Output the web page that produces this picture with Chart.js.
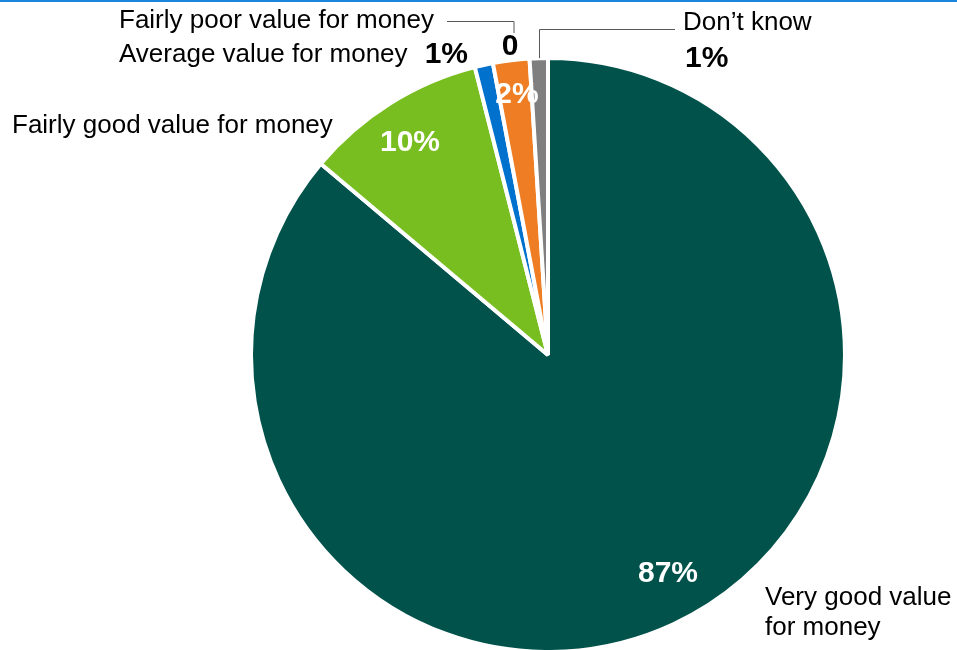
<!DOCTYPE html>
<html><head><meta charset="utf-8">
<script src="https://cdn.jsdelivr.net/npm/chart.js@4/dist/chart.umd.min.js"></script>
<style>html,body{margin:0;padding:0;background:#fff;}#wrap{width:957px;height:650px;position:relative;}</style>
</head><body><div id="wrap"><canvas id="c" width="957" height="650"></canvas></div>
<script>
const categories = ["Very good value for money", "Fairly good value for money", "Average value for money", "Fairly poor value for money", "Very poor value for money", "Don’t know"];
const values = [87, 10, 1, 0, 2, 1];
const valueLabels = ["87%", "10%", "1%", "0", "2%", "1%"];
const sliceColors = ["#00524A", "#78BE21", "#0072CE", "#ED7D31", "#EE7D23", "#7F7F7F"];

const FONT = '"Liberation Sans", Arial, sans-serif';

const labelPlugin = {
  id: 'labels',
  afterDraw(chart) {
    const ctx = chart.ctx;
    const meta = chart.getDatasetMeta(0);
    const a0 = meta.data[0];
    const cx = a0.x, cy = a0.y;
    ctx.save();
    // top blue rule
    ctx.fillStyle = '#1B86DD';
    ctx.fillRect(0, 0, chart.width, 2);

    function txt(s, x, y, opt) {
      ctx.font = (opt.bold ? 'bold ' : '') + opt.size + 'px ' + FONT;
      ctx.fillStyle = opt.color || '#000';
      ctx.textAlign = opt.align || 'left';
      ctx.textBaseline = 'alphabetic';
      ctx.fillText(s, x, y);
    }
    // leader lines
    ctx.strokeStyle = '#595959';
    ctx.lineWidth = 1;
    ctx.beginPath();
    ctx.moveTo(cx - 101, cy - 333.5);
    ctx.lineTo(cx - 34, cy - 333.5);
    ctx.lineTo(cx - 34, cy - 322);
    ctx.stroke();
    const g = meta.data[5];
    const gm = (g.startAngle + g.endAngle) / 2;
    const gx = Math.round(cx + Math.cos(gm) * g.outerRadius) + 0.5;
    const gy = cy + Math.sin(gm) * g.outerRadius;
    ctx.beginPath();
    ctx.moveTo(gx, gy);
    ctx.lineTo(gx, cy - 325.5);
    ctx.lineTo(cx + 127, cy - 325.5);
    ctx.stroke();

    // category labels
    txt(categories[3], cx - 429, cy - 327, {size: 26});
    txt(categories[2], cx - 429, cy - 293, {size: 26});
    txt(categories[1], cx - 536, cy - 222, {size: 26});
    txt("Very good value", cx + 217, cy + 250, {size: 26});
    txt("for money", cx + 217, cy + 280, {size: 26});
    txt(categories[5], cx + 135, cy - 325, {size: 26});

    // value labels
    txt(valueLabels[0], cx + 120, cy + 227, {size: 30, bold: true, color: '#fff', align: 'center'});
    txt(valueLabels[1], cx - 138, cy - 204, {size: 30, bold: true, color: '#fff', align: 'center'});
    txt(valueLabels[2], cx - 80, cy - 292, {size: 30, bold: true, align: 'right'});
    txt(valueLabels[3], cx - 38, cy - 300, {size: 30, bold: true, align: 'center'});
    txt(valueLabels[4], cx - 31, cy - 252, {size: 30, bold: true, color: '#fff', align: 'center'});
    txt(valueLabels[5], cx + 137, cy - 288, {size: 30, bold: true});
    ctx.restore();
  }
};

new Chart(document.getElementById('c'), {
  type: 'pie',
  data: {
    labels: categories,
    datasets: [{
      data: values,
      backgroundColor: sliceColors,
      borderColor: '#ffffff',
      borderWidth: 4
    }]
  },
  options: {
    responsive: false,
    devicePixelRatio: 1,
    animation: false,
    radius: 297,
    layout: {padding: {left: 139, right: 0, top: 60, bottom: 0}},
    plugins: {legend: {display: false}, tooltip: {enabled: false}}
  },
  plugins: [labelPlugin]
});
</script>
</body></html>
